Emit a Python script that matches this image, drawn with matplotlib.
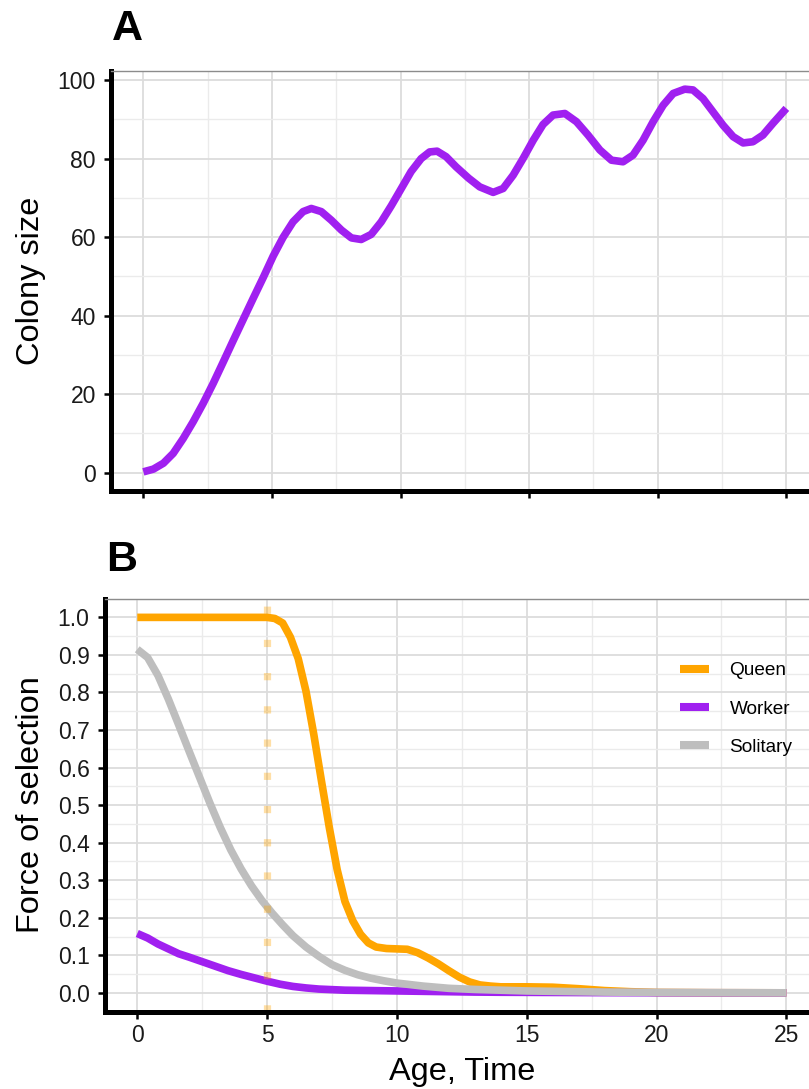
import matplotlib
matplotlib.use("Agg")
import matplotlib.pyplot as plt
from matplotlib.ticker import MultipleLocator

plt.rcParams['font.family'] = ['Liberation Sans', 'DejaVu Sans']

# ---- panel A: colony size over time
time_a = [0, 0.39, 0.78, 1.16, 1.55, 1.94, 2.33, 2.72, 3.10, 3.49, 3.88, 4.27,
          4.66, 5.05, 5.43, 5.82, 6.21, 6.53, 6.92, 7.31, 7.70, 8.09, 8.47, 8.86,
          9.25, 9.64, 10.03, 10.41, 10.80, 11.13, 11.42, 11.77, 12.16, 12.65,
          13.08, 13.60, 13.99, 14.38, 14.77, 15.16, 15.54, 15.93, 16.39, 16.84,
          17.29, 17.75, 18.20, 18.65, 19.04, 19.43, 19.82, 20.21, 20.60, 21.05,
          21.37, 21.76, 22.15, 22.54, 22.93, 23.32, 23.70, 24.09, 24.48, 25.0]
colony_size = [0.2, 0.9, 2.4, 4.9, 8.7, 13.0, 17.7, 22.8, 28.1, 33.6, 39.0, 44.4,
               49.7, 55.2, 59.9, 63.9, 66.5, 67.3, 66.5, 64.3, 61.8, 59.8, 59.4,
               60.7, 63.9, 68.0, 72.4, 76.7, 80.0, 81.7, 81.9, 80.5, 77.9, 75.0,
               72.8, 71.4, 72.4, 75.8, 80.1, 84.7, 88.7, 91.1, 91.5, 89.4, 86.0,
               82.2, 79.6, 79.2, 80.9, 84.7, 89.4, 93.6, 96.6, 97.7, 97.5, 95.3,
               91.9, 88.5, 85.6, 84.0, 84.3, 86.0, 89.0, 92.8]

# ---- panel B: force of selection by age
queen_age = [0, 2.5, 5.0, 5.3, 5.6, 5.9, 6.2, 6.5, 6.8, 7.1, 7.4, 7.7, 8.0, 8.3,
             8.6, 8.9, 9.2, 9.6, 10.0, 10.4, 10.8, 11.2, 11.6, 12.0, 12.4, 12.8,
             13.2, 13.6, 14, 15, 16, 17, 18, 19, 20, 22, 25]
queen_fos = [1.0, 1.0, 1.0, 0.997, 0.985, 0.947, 0.89, 0.803, 0.688, 0.562,
             0.439, 0.328, 0.243, 0.192, 0.156, 0.133, 0.122, 0.118, 0.117,
             0.116, 0.107, 0.093, 0.077, 0.059, 0.042, 0.029, 0.021, 0.018,
             0.016, 0.016, 0.015, 0.011, 0.006, 0.003, 0.001, 0.0003, 0.0]

worker_age = [0, 0.4, 0.8, 1.2, 1.6, 2.0, 2.5, 3.0, 3.5, 4.0, 4.5, 5.0, 5.5, 6.0,
              6.5, 7, 8, 9, 10, 11, 12, 13, 14, 16, 18, 20, 25]
worker_fos = [0.158, 0.146, 0.13, 0.117, 0.104, 0.095, 0.083, 0.071, 0.059,
              0.049, 0.040, 0.031, 0.023, 0.017, 0.013, 0.010, 0.007, 0.006,
              0.005, 0.004, 0.003, 0.002, 0.0015, 0.001, 0.0005, 0.0002, 0.0]

solitary_age = [0, 0.4, 0.8, 1.2, 1.6, 2.0, 2.4, 2.8, 3.2, 3.6, 4.0, 4.4, 4.8,
                5.2, 5.6, 6.0, 6.5, 7.0, 7.5, 8.0, 8.5, 9.0, 9.5, 10, 11, 12, 13,
                14, 15, 16, 18, 20, 22, 25]
solitary_fos = [0.915, 0.893, 0.845, 0.782, 0.713, 0.643, 0.574, 0.505, 0.440,
                0.381, 0.330, 0.285, 0.246, 0.212, 0.181, 0.152, 0.122, 0.097,
                0.075, 0.060, 0.048, 0.039, 0.032, 0.026, 0.018, 0.012, 0.009,
                0.007, 0.005, 0.004, 0.002, 0.001, 0.0005, 0.0]

queen_start = 5  # age at which the queen starts reproducing

W, H = 809, 1089
fig = plt.figure(figsize=(W / 100, H / 100), dpi=100)


def fig_box(left, top, width, height):
    return [left / W, 1 - (top + height) / H, width / W, height / H]


def style(ax, ymajor, yminor):
    ax.xaxis.set_major_locator(MultipleLocator(5))
    ax.xaxis.set_minor_locator(MultipleLocator(2.5))
    ax.yaxis.set_major_locator(MultipleLocator(ymajor))
    ax.yaxis.set_minor_locator(MultipleLocator(yminor))
    ax.grid(which='major', color='#dcdcdc', lw=1.3)
    ax.grid(which='minor', color='#ebebeb', lw=1.0)
    ax.set_axisbelow(True)
    for s in ('left', 'bottom'):
        ax.spines[s].set_linewidth(3.6)
        ax.spines[s].set_color('black')
        ax.spines[s].set_capstyle('projecting')
    ax.spines['top'].set_color('#8c8c8c')
    ax.spines['top'].set_linewidth(1.0)
    ax.spines['right'].set_visible(False)
    ax.tick_params(which='major', length=5, width=1.8, color='black',
                   labelsize=16.5, labelcolor='#1a1a1a')
    ax.tick_params(axis='y', pad=6)
    ax.tick_params(axis='x', pad=4)
    ax.tick_params(which='minor', length=0)
    ax.set_xlim(-1.25, 26.25)


# ---------- A
axA = fig.add_axes(fig_box(111.2, 70.7, 707.3, 420))
style(axA, 20, 10)
axA.plot(time_a, colony_size, color='#a020f0', lw=5.5, solid_capstyle='butt')
axA.set_ylim(-4.6, 102.4)
axA.tick_params(axis='x', labelbottom=False)
fig.text(112 / W, 1 - 39.5 / H, 'A', fontsize=31, fontweight='bold', ha='left', va='baseline')
fig.text(38.8 / W, 1 - 280.7 / H, 'Colony size', fontsize=23.4, rotation=90,
         rotation_mode='anchor', ha='center', va='baseline')

# ---------- B
axB = fig.add_axes(fig_box(104.8, 598.6, 714, 413))
style(axB, 0.1, 0.05)
axB.plot(queen_age, queen_fos, color='#ffa500', lw=5.5, solid_capstyle='butt', label='Queen')
axB.plot(worker_age, worker_fos, color='#a020f0', lw=5.5, solid_capstyle='butt', label='Worker')
axB.plot(solitary_age, solitary_fos, color='#bebebe', lw=5.5, solid_capstyle='butt', label='Solitary')
axB.axvline(queen_start, color='#ffa500', alpha=0.35, lw=5.2, linestyle=(0, (1, 3.6)),
            dash_capstyle='butt')
axB.set_ylim(-0.05, 1.05)
axB.yaxis.set_major_formatter(plt.FormatStrFormatter('%.1f'))
fig.text(106 / W, 1 - 571 / H, 'B', fontsize=31, fontweight='bold', ha='left', va='baseline')
fig.text(38.8 / W, 1 - 805 / H, 'Force of selection', fontsize=23.4, rotation=90,
         rotation_mode='anchor', ha='center', va='baseline')
fig.text(462 / W, 1 - 1080 / H, 'Age, Time', fontsize=23.4, ha='center', va='baseline')

leg = axB.legend(loc='upper left', bbox_to_anchor=(680 / W, 1 - 662 / H),
                 bbox_transform=fig.transFigure, frameon=False, fontsize=13.7,
                 handlelength=1.55, handletextpad=1.05, labelspacing=1.1,
                 borderpad=0, borderaxespad=0)
for ln in leg.get_lines():
    ln.set_linewidth(5.8)

fig.savefig('out.png', dpi=100)
